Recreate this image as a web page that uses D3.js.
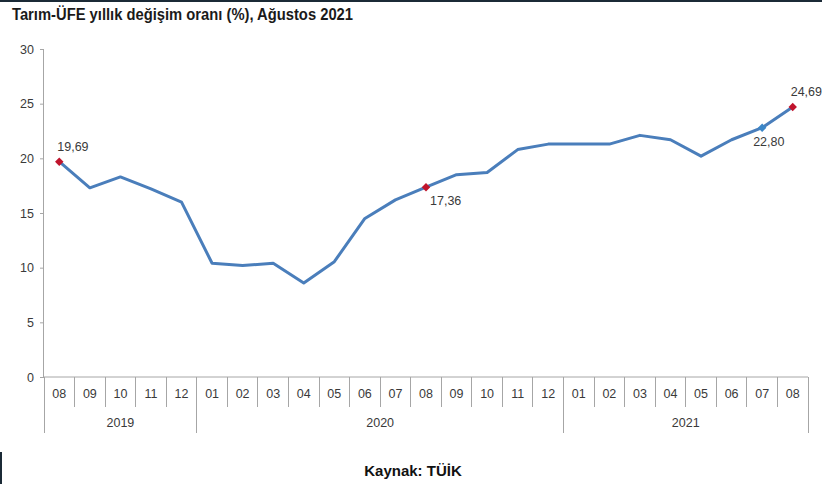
<!DOCTYPE html>
<html><head><meta charset="utf-8">
<script src="https://cdn.jsdelivr.net/npm/d3@7"></script>
<style>
body{margin:0;background:#fff;}
svg{display:block;font-family:"Liberation Sans",Arial,sans-serif;}
</style></head>
<body><svg id="c" width="822" height="484"></svg>
<script>
const months = ["08","09","10","11","12","01","02","03","04","05","06","07","08","09","10","11","12","01","02","03","04","05","06","07","08"];
const monthYears = ["2019","2019","2019","2019","2019","2020","2020","2020","2020","2020","2020","2020","2020","2020","2020","2020","2020","2021","2021","2021","2021","2021","2021","2021","2021"];
const values = [19.69,17.3,18.3,17.2,16.0,10.4,10.2,10.4,8.6,10.55,14.5,16.2,17.36,18.5,18.7,20.8,21.3,21.3,21.3,22.1,21.7,20.2,21.7,22.80,24.69];
const yTicks = [0,5,10,15,20,25,30];
const labelled = [
  {i:0, text:"19,69", color:"#c0142c", pos:"above"},
  {i:12, text:"17,36", color:"#c0142c", pos:"below"},
  {i:23, text:"22,80", color:"#3a86c8", pos:"below"},
  {i:24, text:"24,69", color:"#c0142c", pos:"above"}
];
const title = "Tarım-ÜFE yıllık değişim oranı (%), Ağustos 2021";
const source = "Kaynak: TÜİK";

const svg = d3.select("#c");
const L = 44, R = 808, T = 49, B = 377;
const x = d3.scaleBand().domain(d3.range(months.length)).range([L, R]).padding(0);
const y = d3.scaleLinear().domain([0,30]).range([B, T]);
const axisCol = "#a6a6a6", textCol = "#3a3a3a";

// frame decorations
svg.append("rect").attr("x",0).attr("y",0).attr("width",822).attr("height",2).attr("fill","#1b2a36");
svg.append("rect").attr("x",0).attr("y",452).attr("width",2).attr("height",32).attr("fill","#1b2a36");

svg.append("text").attr("x",12).attr("y",20).attr("fill","#1a1a1a").attr("font-weight","bold")
  .attr("font-size",16).attr("textLength",341).attr("lengthAdjust","spacingAndGlyphs").text(title);

// y axis
const yAxis = d3.axisLeft(y).tickValues(yTicks).tickSize(4).tickPadding(6).tickFormat(d3.format("d"));
const gy = svg.append("g").attr("transform",`translate(${L},0)`).call(yAxis);
gy.select(".domain").attr("stroke",axisCol).attr("d",`M-0.5,${T}V${B}`);
gy.selectAll(".tick line").attr("stroke",axisCol);
gy.selectAll(".tick text").attr("fill",textCol).attr("font-size",12.5);

// x axis line
svg.append("line").attr("x1",L).attr("x2",R).attr("y1",B).attr("y2",B).attr("stroke",axisCol);
// month separators
const seps = d3.range(months.length+1);
svg.append("g").selectAll("line").data(seps).join("line")
  .attr("x1",i=> i<months.length ? x(i) : R).attr("x2",i=> i<months.length ? x(i) : R)
  .attr("y1",B).attr("y2",i=> (i===0||i===months.length||monthYears[i]!==monthYears[i-1]) ? 433 : 407)
  .attr("stroke",axisCol).attr("shape-rendering","crispEdges");
svg.append("g").selectAll("text").data(months).join("text")
  .attr("x",(d,i)=>x(i)+x.bandwidth()/2).attr("y",398).attr("text-anchor","middle")
  .attr("fill",textCol).attr("font-size",12.5).text(d=>d);
// year labels
const yearGroups = d3.groups(monthYears.map((yr,i)=>({yr,i})), d=>d.yr);
svg.append("g").selectAll("text").data(yearGroups).join("text")
  .attr("x",g=>{const a=g[1][0].i,b=g[1][g[1].length-1].i; return (x(a)+x(b)+x.bandwidth())/2;})
  .attr("y",427).attr("text-anchor","middle").attr("fill",textCol).attr("font-size",12.5).text(g=>g[0]);

// line
const line = d3.line().x((d,i)=>x(i)+x.bandwidth()/2).y(d=>y(d));
svg.append("path").datum(values).attr("d",line).attr("fill","none")
  .attr("stroke","#4a7ebb").attr("stroke-width",3).attr("stroke-linejoin","round");

// markers & labels (small square diamonds)
svg.append("g").selectAll("rect").data(labelled).join("rect")
  .attr("x",-3).attr("y",-3).attr("width",6).attr("height",6)
  .attr("transform",d=>`translate(${x(d.i)+x.bandwidth()/2},${y(values[d.i])}) rotate(45)`)
  .attr("fill",d=>d.color);
svg.append("g").selectAll("text").data(labelled).join("text")
  .attr("x",d=>x(d.i)+x.bandwidth()/2 + (d.pos==="above" ? -2 : (d.i===23 ? -9 : 4)))
  .attr("y",d=>y(values[d.i]) + (d.pos==="above" ? -11 : 18))
  .attr("fill",textCol).attr("font-size",12.5).text(d=>d.text);

svg.append("text").attr("x",413).attr("y",476).attr("text-anchor","middle")
  .attr("font-weight","bold").attr("font-size",15).attr("fill","#111").text(source);
</script></body></html>
